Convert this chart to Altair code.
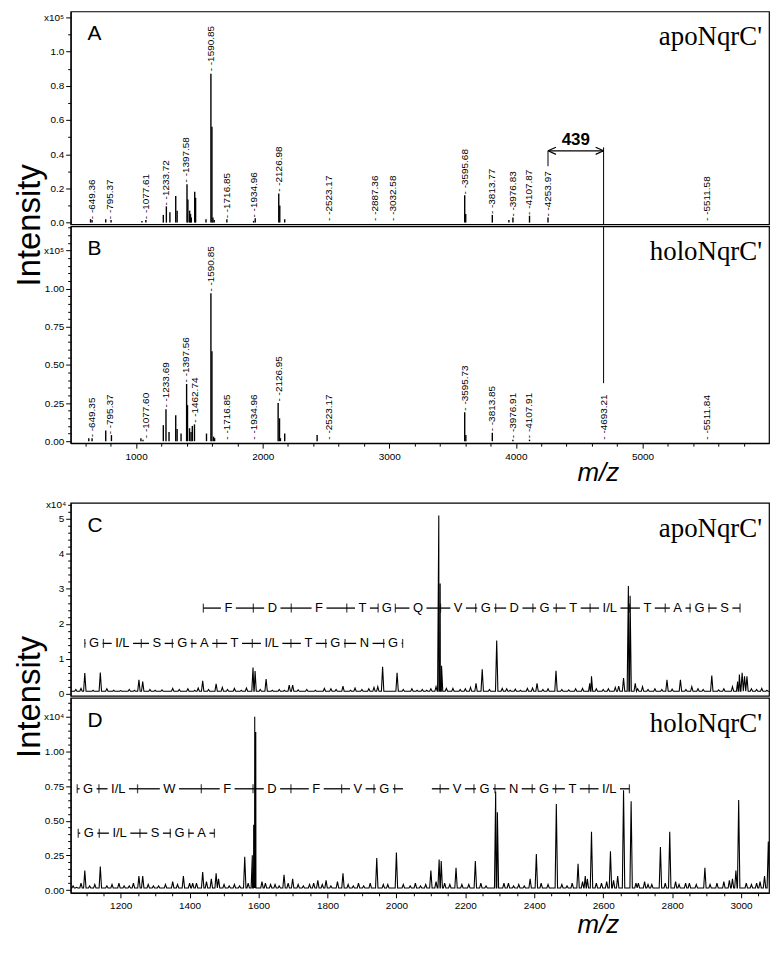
import altair as alt
import numpy as np
import pandas as pd

# ---------------- Panel A: apoNqrC' stick spectrum (x10^5) ----------------
a_mz = [640, 652, 760, 802, 1046, 1077, 1215, 1239, 1267, 1313, 1324, 1402, 1409, 1423, 1430, 1436, 1463, 1470,
        1552, 1591, 1599, 1607, 1617, 1717, 1928, 1941, 2127, 2135, 2174, 3596, 3604, 3814, 3945, 3977, 4108, 4254]
a_int = [0.02, 0.015, 0.02, 0.015, 0.01, 0.015, 0.045, 0.095, 0.06, 0.155, 0.07, 0.225, 0.135, 0.07, 0.05, 0.03,
         0.18, 0.145, 0.02, 0.87, 0.56, 0.03, 0.015, 0.02, 0.01, 0.025, 0.17, 0.10, 0.02, 0.16, 0.05, 0.045,
         0.015, 0.03, 0.04, 0.03]
a_lab_mz = [649.36, 795.37, 1077.61, 1233.72, 1397.58, 1590.85, 1716.85, 1934.96, 2126.98, 2523.17, 2887.36,
            3032.58, 3595.68, 3813.77, 3976.83, 4107.87, 4253.97, 5511.58]
a_lab_y = [0.02, 0.02, 0.02, 0.10, 0.235, 0.885, 0.025, 0.03, 0.18, 0.01, 0.01, 0.01, 0.165, 0.05, 0.035,
           0.045, 0.035, 0.01]

# ---------------- Panel B: holoNqrC' stick spectrum (x10^5) ----------------
b_mz = [626, 652, 760, 805, 1038, 1054, 1215, 1236, 1260, 1313, 1324, 1355, 1399, 1406, 1422, 1434, 1444, 1461,
        1556, 1591, 1599, 1612, 1620, 2122, 2133, 2140, 2174, 2430, 3596, 3605, 3814, 3977, 4108]
b_int = [0.02, 0.02, 0.07, 0.04, 0.02, 0.01, 0.105, 0.21, 0.06, 0.17, 0.08, 0.05, 0.375, 0.236, 0.085, 0.06,
         0.10, 0.11, 0.05, 0.97, 0.59, 0.03, 0.02, 0.25, 0.15, 0.02, 0.05, 0.04, 0.19, 0.04, 0.055, 0.01, 0.01]
b_lab_mz = [649.35, 795.37, 1077.60, 1233.69, 1397.56, 1462.74, 1590.85, 1716.85, 1934.96, 2126.95, 2523.17,
            3595.73, 3813.85, 3976.91, 4107.91, 4693.21, 5511.84]
b_lab_y = [0.025, 0.045, 0.02, 0.22, 0.385, 0.12, 0.98, 0.01, 0.01, 0.26, 0.01, 0.20, 0.065, 0.02, 0.02,
           0.01, 0.01]

# ---------------- Panel C: apoNqrC' MS/MS profile (x10^4) ----------------
c_mz = [1096, 1141, 1253, 1264, 1351, 1438, 1477, 1584, 1590, 1622, 1689, 1699, 1791, 1845, 1867, 1946, 1960,
        2002, 2088, 2115, 2123, 2127, 2131, 2164, 2231, 2249, 2291, 2307, 2330, 2408, 2463, 2561, 2566, 2659,
        2673, 2678, 2693, 2714, 2785, 2824, 2857, 2915, 2990, 2995, 3003, 3010, 3017, 3060]
c_int = [0.59, 0.61, 0.40, 0.35, 0.15, 0.37, 0.28, 0.75, 0.65, 0.42, 0.25, 0.25, 0.15, 0.22, 0.10, 0.20, 0.77,
         0.60, 0.10, 0.20, 5.10, 3.15, 0.80, 0.15, 0.30, 0.70, 1.52, 0.15, 0.10, 0.30, 0.66, 0.30, 0.50, 0.45,
         3.08, 2.80, 0.30, 0.20, 0.40, 0.40, 0.20, 0.52, 0.35, 0.55, 0.60, 0.50, 0.50, 0.15]
c_noise_mz = [1070, 1085, 1120, 1160, 1180, 1200, 1225, 1240, 1285, 1300, 1320, 1370, 1395, 1415, 1425, 1455,
              1495, 1510, 1530, 1550, 1565, 1605, 1640, 1660, 1675, 1715, 1740, 1765, 1810, 1825, 1880, 1900,
              1920, 1935, 2020, 2045, 2060, 2075, 2100, 2145, 2185, 2200, 2215, 2270, 2320, 2345, 2360, 2380,
              2395, 2425, 2440, 2480, 2500, 2520, 2540, 2580, 2600, 2615, 2635, 2645, 2700, 2730, 2750, 2770,
              2800, 2840, 2875, 2890, 2935, 2950, 2975, 3030, 3045, 3075]
c_noise_int = [0.12, 0.15, 0.10, 0.14, 0.10, 0.09, 0.12, 0.10, 0.12, 0.10, 0.11, 0.12, 0.14, 0.10, 0.16, 0.12,
               0.18, 0.12, 0.15, 0.10, 0.16, 0.12, 0.10, 0.12, 0.10, 0.11, 0.12, 0.10, 0.14, 0.12, 0.16, 0.12,
               0.14, 0.18, 0.12, 0.14, 0.10, 0.12, 0.14, 0.15, 0.12, 0.14, 0.18, 0.12, 0.14, 0.13, 0.10, 0.15,
               0.16, 0.12, 0.14, 0.12, 0.11, 0.14, 0.15, 0.14, 0.12, 0.14, 0.18, 0.22, 0.14, 0.12, 0.14, 0.12,
               0.13, 0.12, 0.14, 0.12, 0.11, 0.14, 0.20, 0.14, 0.12, 0.10]
c_row1_ticks = [1440, 1585, 1695, 1856, 1947, 1997, 2128, 2230, 2288, 2396, 2464, 2562, 2676, 2780, 2852, 2907, 2997]
c_row1_res = ["F", "D", "F", "T", "G", "Q", "V", "G", "D", "G", "T", "I/L", "T", "A", "G", "S"]
c_row2_ticks = [1096, 1150, 1260, 1350, 1407, 1479, 1582, 1694, 1795, 1851, 1963, 2018]
c_row2_res = ["G", "I/L", "S", "G", "A", "T", "I/L", "T", "G", "N", "G"]
c_row_y = [2.45, 1.44]

# ---------------- Panel D: holoNqrC' MS/MS profile (x10^4) ----------------
d_mz = [1096, 1141, 1195, 1237, 1253, 1264, 1351, 1382, 1400, 1409, 1438, 1449, 1463, 1477, 1484, 1560, 1582,
        1586, 1589, 1592, 1610, 1620, 1648, 1674, 1686, 1699, 1748, 1772, 1796, 1829, 1845, 1924, 1943, 1962,
        2000, 2100, 2115, 2124, 2130, 2173, 2210, 2229, 2288, 2293, 2312, 2371, 2388, 2406, 2464, 2527, 2548,
        2554, 2566, 2595, 2621, 2642, 2659, 2681, 2702, 2741, 2766, 2793, 2810, 2839, 2895, 2966, 2985, 2993,
        3015, 3068, 3079]
d_int = [0.14, 0.17, 0.05, 0.05, 0.10, 0.10, 0.06, 0.10, 0.05, 0.05, 0.13, 0.06, 0.08, 0.12, 0.08, 0.24, 0.25,
         0.47, 1.25, 1.14, 0.06, 0.05, 0.04, 0.11, 0.05, 0.08, 0.04, 0.07, 0.07, 0.06, 0.12, 0.05, 0.23, 0.04,
         0.27, 0.14, 0.06, 0.22, 0.21, 0.16, 0.04, 0.21, 0.71, 0.56, 0.05, 0.03, 0.08, 0.26, 0.62, 0.19, 0.10,
         0.08, 0.42, 0.05, 0.28, 0.10, 0.72, 0.64, 0.05, 0.04, 0.31, 0.42, 0.06, 0.05, 0.16, 0.07, 0.14, 0.65,
         0.05, 0.10, 0.35]
d_noise_mz = [1062, 1072, 1085, 1110, 1125, 1160, 1175, 1210, 1225, 1280, 1295, 1310, 1330, 1365, 1420, 1500,
              1515, 1530, 1545, 1570, 1635, 1660, 1715, 1730, 1760, 1785, 1810, 1860, 1875, 1890, 1905, 1975,
              2020, 2040, 2055, 2070, 2085, 2140, 2155, 2190, 2245, 2260, 2325, 2340, 2355, 2420, 2440, 2480,
              2495, 2510, 2540, 2580, 2610, 2630, 2695, 2720, 2730, 2780, 2820, 2850, 2870, 2910, 2930, 2950,
              2975, 3030, 3045, 3055]
d_noise_int = [0.03, 0.02, 0.05, 0.03, 0.04, 0.03, 0.04, 0.03, 0.03, 0.04, 0.03, 0.03, 0.04, 0.04, 0.05, 0.04,
               0.03, 0.04, 0.03, 0.05, 0.04, 0.03, 0.04, 0.03, 0.05, 0.04, 0.03, 0.04, 0.03, 0.05, 0.03, 0.04,
               0.04, 0.03, 0.05, 0.03, 0.04, 0.05, 0.04, 0.04, 0.05, 0.03, 0.05, 0.03, 0.04, 0.05, 0.04, 0.04,
               0.03, 0.05, 0.06, 0.05, 0.06, 0.07, 0.05, 0.06, 0.04, 0.05, 0.04, 0.05, 0.04, 0.04, 0.05, 0.06,
               0.08, 0.04, 0.05, 0.06]
d_row1_ticks = [1074, 1137, 1249, 1434, 1584, 1694, 1841, 1935, 1995, 2127, 2225, 2286, 2394, 2462, 2559, 2676]
d_row1_res = ["G", "I/L", "W", "F", "D", "F", "V", "G", "", "V", "G", "N", "G", "T", "I/L"]
d_row2_ticks = [1077, 1138, 1256, 1344, 1398, 1472]
d_row2_res = ["G", "I/L", "S", "G", "A"]
d_row_y = [0.73, 0.41]

# annotation of the 439 Da shift
shift_from, shift_to, shift_label = 4253.97, 4693.21, "439"

# ---------------- layout constants ----------------
W = 702
HA, HB, HC, HD = 214, 218, 194, 196
GAP = 2
GAP_BC = 60
XAB = [483, 6000]
XCD = [1055, 3081]
FONT = "Liberation Sans"
SERIF = "Liberation Serif"

xAB = alt.Scale(domain=XAB, nice=False, zero=False)
xCD = alt.Scale(domain=XCD, nice=False, zero=False)
yA = alt.Scale(domain=[-0.01, 1.235], nice=False, zero=False)
yB = alt.Scale(domain=[-0.013, 1.408], nice=False, zero=False)
yC = alt.Scale(domain=[-0.06, 5.46], nice=False, zero=False)
yD = alt.Scale(domain=[-0.02, 1.386], nice=False, zero=False)


def y_axis(vals, major, fmt, topval, toplab):
    return alt.Axis(
        values=vals, title=None, grid=False, labelOverlap=False, labelFontSize=10, labelFont=FONT,
        labelPadding=2, labelColor="black", tickColor="black", domainColor="black",
        labelExpr=f"abs(datum.value-{topval})<1e-6 ? '{toplab}' : (({major}) ? format(datum.value, '{fmt}') : '')",
        tickSize={"condition": {"test": major, "value": 5}, "value": 3},
    )


def x_axis(vals, step, title_x, title_y):
    major = f"abs(datum.value % {step}) < 1e-6"
    return alt.Axis(
        values=vals, grid=False, labelOverlap=False, labelFlush=False, labelFontSize=10, labelFont=FONT,
        labelColor="black", tickColor="black", domainColor="black", labelPadding=3,
        labelExpr=f"({major}) ? format(datum.value, 'd') : ''",
        tickSize={"condition": {"test": major, "value": 5}, "value": 3},
        title="m/z", titleFont=FONT, titleFontStyle="italic", titleFontWeight="normal", titleFontSize=26,
        titleColor="black", titleX=title_x, titleY=title_y, titleAlign="center", titleBaseline="alphabetic",
    )


yA_axis = y_axis(np.round(np.arange(0, 1.21, 0.1), 2).tolist(),
                 "abs(datum.value*5-round(datum.value*5))<1e-6", ".1f", 1.2, "x10⁵")
yB_axis = y_axis(np.round(np.arange(0, 1.41, 0.05), 2).tolist(),
                 "abs(datum.value*4-round(datum.value*4))<1e-6", ".2f", 1.25, "x10⁵")
yC_axis = y_axis(np.round(np.arange(0, 5.41, 0.2), 2).tolist(),
                 "abs(datum.value-round(datum.value))<1e-6", "d", 5.4, "x10⁴")
yD_axis = y_axis(np.round(np.arange(0, 1.36, 0.05), 2).tolist(),
                 "abs(datum.value*4-round(datum.value*4))<1e-6", ".2f", 1.25, "x10⁴")
xB_axis = x_axis(list(range(600, 6000, 200)), 1000, 530, 38)
xD_axis = x_axis(list(range(1100, 3081, 50)), 200, 530, 40)


def X(field, scale, axis):
    return alt.X(field, scale=scale, axis=axis)


def Y(field, scale, axis):
    return alt.Y(field, scale=scale, axis=axis)


def stick_layer(mz, h, xs, ys, xax, yax):
    df = pd.DataFrame({"mz": mz, "h": h, "z": 0.0})
    return alt.Chart(df).mark_rule(color="black", strokeWidth=1.4).encode(
        x=X("mz:Q", xs, xax), y=Y("z:Q", ys, yax), y2="h:Q")


def label_layer(mz, y, xs, ys, xax, yax):
    df = pd.DataFrame({"mz": mz, "y": y, "t": ["- -" + f"{v:.2f}" for v in mz]})
    return alt.Chart(df).mark_text(angle=270, align="left", baseline="middle", fontSize=10, font=FONT,
                                   color="black").encode(
        x=X("mz:Q", xs, xax), y=Y("y:Q", ys, yax), text="t:N")


def profile_df(mz, h, nmz, nh, base, hw, xr):
    pts = [(xr[0], base), (xr[1] + 5, base)]
    for m, v in zip(list(mz) + list(nmz), list(h) + list(nh)):
        pts += [(m - hw, base), (m, v), (m + hw, base)]
    pts.sort(key=lambda p: p[0])
    return pd.DataFrame(pts, columns=["mz", "h"])


LW = {"F": 8.0, "D": 9.4, "T": 8.0, "G": 10.1, "Q": 10.1, "V": 8.7, "I/L": 14.5, "A": 8.7, "S": 8.7,
      "N": 9.4, "W": 12.3, "": 22.0}
PXU = W / (XCD[1] - XCD[0])


def ladder(rows):
    segs, labs, tks = [], [], []
    for ticks, res, y in rows:
        for i, L in enumerate(res):
            a, b = ticks[i], ticks[i + 1]
            c = (a + b) / 2
            g = (LW[L] / 2 + 3.5) / PXU
            if c - g > a:
                segs.append({"x": a, "x2": c - g, "y": y})
                segs.append({"x": c + g, "x2": b, "y": y})
            if L:
                labs.append({"x": c, "y": y, "t": L})
        for t in ticks:
            tks.append({"x": t, "y": y})
    return pd.DataFrame(segs), pd.DataFrame(labs), pd.DataFrame(tks)


def ladder_layers(rows, ys, xax, yax):
    segs, labs, tks = ladder(rows)
    l1 = alt.Chart(segs).mark_rule(color="black", strokeWidth=1.3).encode(
        x=X("x:Q", xCD, xax), x2="x2:Q", y=Y("y:Q", ys, yax))
    l2 = alt.Chart(tks).mark_tick(color="black", size=9, thickness=1.3, orient="vertical").encode(
        x=X("x:Q", xCD, xax), y=Y("y:Q", ys, yax))
    l3 = alt.Chart(labs).mark_text(fontSize=13, font=FONT, color="black", baseline="middle",
                                   align="center").encode(
        x=X("x:Q", xCD, xax), y=Y("y:Q", ys, yax), text="t:N")
    return [l1, l2, l3]


def txt(text, x, y, size, font=FONT, align="left", angle=0, baseline="alphabetic", weight="normal"):
    return alt.Chart(pd.DataFrame({"t": [text]})).mark_text(
        fontSize=size, font=font, align=align, angle=angle, baseline=baseline, fontWeight=weight,
        color="black").encode(x=alt.value(x), y=alt.value(y), text="t:N")


def panel_texts(letter, name, h, intensity):
    out = [txt(letter, 17, 29, 21), txt(name, W - 7, 34, 27, font=SERIF, align="right")]
    if intensity:
        out.append(txt("Intensity", -41, h + 1, 33, align="center", angle=270, baseline="middle"))
    return out


# ---------- Panel A ----------
arrow_df = pd.DataFrame({"x": [shift_from], "x2": [shift_to], "y": [0.42]})
vA_df = pd.DataFrame({"x": [shift_from, shift_to], "y": [0.42, 0.44], "y2": [0.33, -0.01]})
headL = alt.Chart(pd.DataFrame({"x": [shift_from], "y": [0.42]})).mark_point(
    shape="M0,0L1,-0.45M0,0L1,0.45", size=256, filled=False, color="black", strokeWidth=1.2, opacity=1).encode(
    x=X("x:Q", xAB, None), y=Y("y:Q", yA, yA_axis))
headR = alt.Chart(pd.DataFrame({"x": [shift_to], "y": [0.42]})).mark_point(
    shape="M0,0L-1,-0.45M0,0L-1,0.45", size=256, filled=False, color="black", strokeWidth=1.2, opacity=1).encode(
    x=X("x:Q", xAB, None), y=Y("y:Q", yA, yA_axis))
arrow = alt.Chart(arrow_df).mark_rule(color="black", strokeWidth=1.2).encode(
    x=X("x:Q", xAB, None), x2="x2:Q", y=Y("y:Q", yA, yA_axis))
vA = alt.Chart(vA_df).mark_rule(color="black", strokeWidth=1).encode(
    x=X("x:Q", xAB, None), y=Y("y:Q", yA, yA_axis), y2="y2:Q")
lab439 = alt.Chart(pd.DataFrame({"x": [(shift_from + shift_to) / 2], "y": [0.455], "t": [shift_label]})).mark_text(
    fontSize=17, font=FONT, fontWeight="bold", color="black", align="center", baseline="alphabetic").encode(
    x=X("x:Q", xAB, None), y=Y("y:Q", yA, yA_axis), text="t:N")

panelA = alt.layer(
    stick_layer(a_mz, a_int, xAB, yA, None, yA_axis),
    label_layer(a_lab_mz, a_lab_y, xAB, yA, None, yA_axis),
    arrow, headL, headR, vA, lab439,
    *panel_texts("A", "apoNqrC'", HA, True),
).properties(width=W, height=HA)

# ---------- Panel B ----------
vB = alt.Chart(pd.DataFrame({"x": [shift_to], "y": [1.408], "y2": [0.38]})).mark_rule(
    color="black", strokeWidth=1).encode(
    x=X("x:Q", xAB, xB_axis), y=Y("y:Q", yB, yB_axis), y2="y2:Q")
panelB = alt.layer(
    stick_layer(b_mz, b_int, xAB, yB, xB_axis, yB_axis),
    label_layer(b_lab_mz, b_lab_y, xAB, yB, xB_axis, yB_axis),
    vB,
    *panel_texts("B", "holoNqrC'", HB, False),
).properties(width=W, height=HB)

# ---------- spacer between the two figure halves ----------
spacer = alt.Chart(pd.DataFrame({"a": [0]})).mark_point(opacity=0).encode(
    x=alt.value(0), y=alt.value(0)
).properties(width=W, height=GAP_BC - 2 * GAP, view=alt.ViewBackground(stroke="transparent", strokeWidth=0))

# ---------- Panel C ----------
c_prof = profile_df(c_mz, c_int, c_noise_mz, c_noise_int, 0.07, 3.5, XCD)
c_line = alt.Chart(c_prof).mark_line(color="black", strokeWidth=1.1, clip=True).encode(
    x=X("mz:Q", xCD, None), y=Y("h:Q", yC, yC_axis))
panelC = alt.layer(
    c_line,
    *ladder_layers([(c_row1_ticks, c_row1_res, c_row_y[0]), (c_row2_ticks, c_row2_res, c_row_y[1])],
                   yC, None, yC_axis),
    *panel_texts("C", "apoNqrC'", HC, True),
).properties(width=W, height=HC)

# ---------- Panel D ----------
d_prof = profile_df(d_mz, d_int, d_noise_mz, d_noise_int, 0.015, 3.5, XCD)
d_line = alt.Chart(d_prof).mark_line(color="black", strokeWidth=1.1, clip=True).encode(
    x=X("mz:Q", xCD, xD_axis), y=Y("h:Q", yD, yD_axis))
panelD = alt.layer(
    d_line,
    *ladder_layers([(d_row1_ticks, d_row1_res, d_row_y[0]), (d_row2_ticks, d_row2_res, d_row_y[1])],
                   yD, xD_axis, yD_axis),
    *panel_texts("D", "holoNqrC'", HD, False),
).properties(width=W, height=HD)

chart = alt.vconcat(panelA, panelB, spacer, panelC, panelD, spacing=GAP, bounds="flush").properties(
    padding={"left": 5, "top": 0, "right": 0, "bottom": 0}).configure_view(
    stroke="black", strokeWidth=1.2).configure_axis(grid=False, domainWidth=1.2, tickWidth=1)

chart.save("out.html", embed_options={"renderer": "svg", "actions": False})
